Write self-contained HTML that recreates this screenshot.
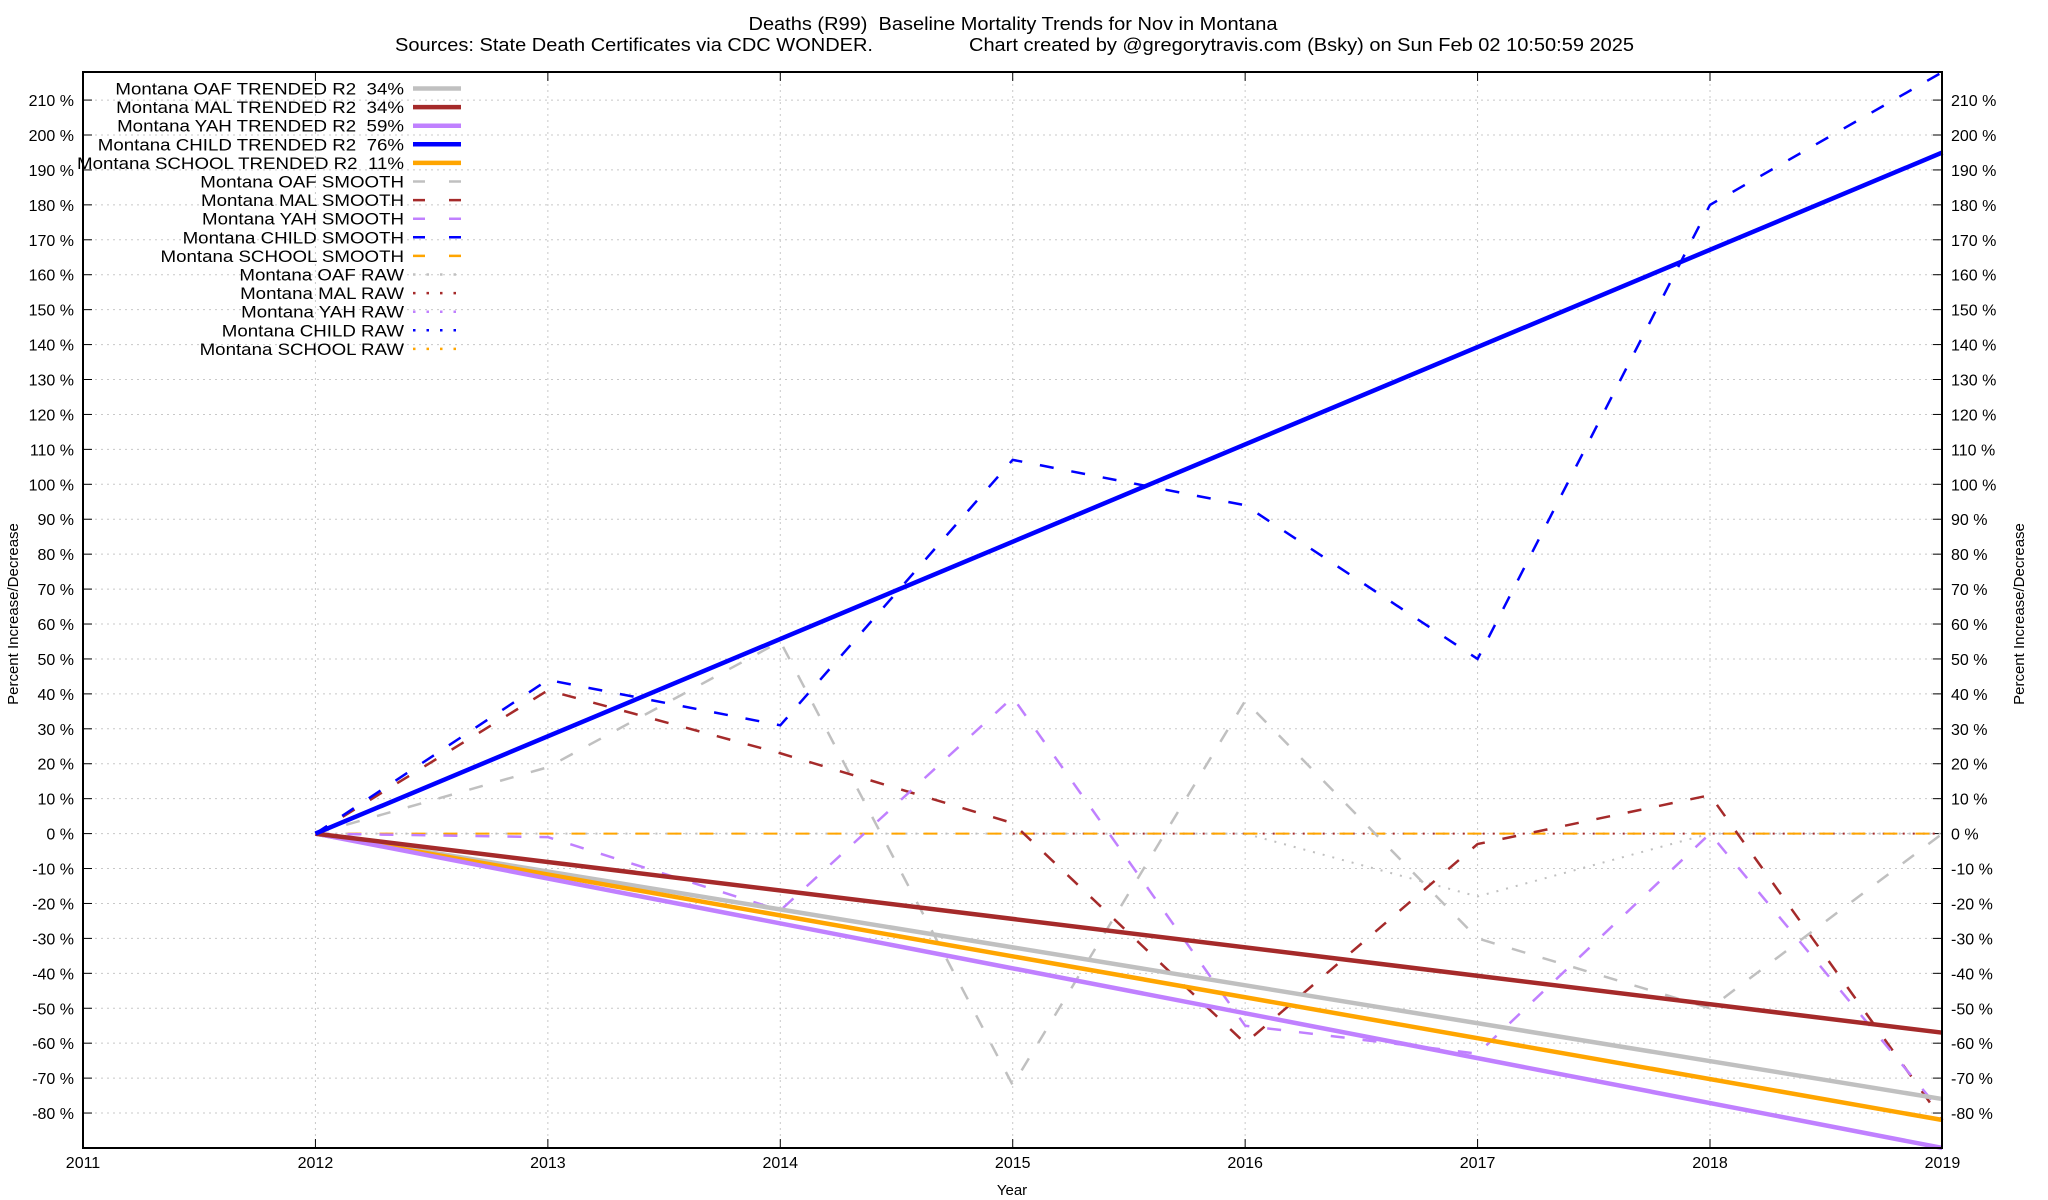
<!DOCTYPE html>
<html><head><meta charset="utf-8"><style>
html,body{margin:0;padding:0;background:#fff;}
svg{display:block;font-family:"Liberation Sans",sans-serif;}
</style></head><body>
<svg width="2048" height="1200" viewBox="0 0 2048 1200" xmlns="http://www.w3.org/2000/svg">
<rect width="2048" height="1200" fill="#fff"/>
<text x="1013" y="30" font-size="18" text-anchor="middle" textLength="529" lengthAdjust="spacingAndGlyphs" xml:space="preserve">Deaths (R99)  Baseline Mortality Trends for Nov in Montana</text>
<text x="395" y="51" font-size="18" textLength="478" lengthAdjust="spacingAndGlyphs">Sources: State Death Certificates via CDC WONDER.</text>
<text x="969" y="51" font-size="18" textLength="665" lengthAdjust="spacingAndGlyphs">Chart created by @gregorytravis.com (Bsky) on Sun Feb 02 10:50:59 2025</text>
<g id="grid" stroke="#c8c8c8" stroke-width="1" stroke-dasharray="2,4"></g>
<g id="axes"></g>
<g id="data" fill="none"></g>
<g id="legend"></g>
<rect x="83" y="72" width="1859" height="1076" fill="none" stroke="#000" stroke-width="2"/>
<text transform="translate(18,614) rotate(-90)" font-size="15" text-anchor="middle">Percent Increase/Decrease</text>
<text transform="translate(2024,614) rotate(-90)" font-size="15" text-anchor="middle">Percent Increase/Decrease</text>
<text x="1012" y="1195" font-size="15" text-anchor="middle">Year</text>
<g id="out"></g>
</svg>
<script>
(function(){
var NS="http://www.w3.org/2000/svg";
function X(y){return 83+232.43*(y-2011);}
function Y(p){return 833.6-3.493*p;}
function el(t,a,p,txt){var e=document.createElementNS(NS,t);for(var k in a)e.setAttribute(k,a[k]);if(txt!=null)e.textContent=txt;(p||document.getElementById('out')).appendChild(e);return e;}
var g=document.getElementById('grid'),ax=document.getElementById('axes');
for(var p=-80;p<=210;p+=10){var y=Y(p);
 el('line',{x1:83,x2:1942,y1:y,y2:y},g);
 el('line',{x1:83,x2:92,y1:y,y2:y,stroke:'#000','stroke-width':1},ax);
 el('line',{x1:1933,x2:1942,y1:y,y2:y,stroke:'#000','stroke-width':1},ax);
 el('text',{x:74,y:y+6,'font-size':16,'text-anchor':'end'},ax,p+' %');
 el('text',{x:1951,y:y+6,'font-size':16},ax,p+' %');}
for(var yr=2011;yr<=2019;yr++){var x=X(yr);
 el('line',{x1:x,x2:x,y1:72,y2:1148},g);
 el('line',{x1:x,x2:x,y1:1148,y2:1139,stroke:'#000'},ax);
 el('line',{x1:x,x2:x,y1:72,y2:81,stroke:'#000'},ax);
 el('text',{x:x,y:1168,'font-size':16,'text-anchor':'middle'},ax,String(yr));}
var d=document.getElementById('data');
function line(vals,col,w,dash,start){var pts=[];for(var i=0;i<vals.length;i++)pts.push(X((start||2012)+i)+','+Y(vals[i]));
 var a={points:pts.join(' '),stroke:col,'stroke-width':w};if(dash)a['stroke-dasharray']=dash;el('polyline',a,d);}
var GR='#c0c0c0',RD='#a52a2a',PU='#c080ff',BL='#0000ff',OR='#ffa500';
var DS='14,18';
line([0,0,0,0,0,-18,0,0],GR,2,'2,8');
line([0,0,0,0,0],RD,2,'2,8',2015);
line([0,0,0,0,0,0,0,0],OR,2,DS);
line([0,19,55,-72,38,-30,-50,0],GR,2.5,DS);
line([0,41,23,3,-60,-3,11,-82],RD,2.5,DS);
line([0,-1,-22,39,-55,-63,0,-80],PU,2.5,DS);
line([0,44,31,107,94,50,180,218],BL,2.5,DS);
function tr(end,col){el('line',{x1:X(2012),y1:Y(0),x2:X(2019),y2:Y(end),stroke:col,'stroke-width':4.5},d);}
tr(-76,GR);tr(-82,OR);tr(-90,PU);tr(-57,RD);tr(195,BL);
var lg=document.getElementById('legend');
var L=[['Montana OAF TRENDED R2  34%',GR,'s'],['Montana MAL TRENDED R2  34%',RD,'s'],['Montana YAH TRENDED R2  59%',PU,'s'],['Montana CHILD TRENDED R2  76%',BL,'s'],['Montana SCHOOL TRENDED R2  11%',OR,'s'],
['Montana OAF SMOOTH',GR,'d'],['Montana MAL SMOOTH',RD,'d'],['Montana YAH SMOOTH',PU,'d'],['Montana CHILD SMOOTH',BL,'d'],['Montana SCHOOL SMOOTH',OR,'d'],
['Montana OAF RAW',GR,'o'],['Montana MAL RAW',RD,'o'],['Montana YAH RAW',PU,'o'],['Montana CHILD RAW',BL,'o'],['Montana SCHOOL RAW',OR,'o']];
for(var i=0;i<L.length;i++){var y=88.5+18.6*i;
 var t=el('text',{x:404,y:y+6,'font-size':17,'text-anchor':'end'},lg,L[i][0]);
 t.setAttributeNS("http://www.w3.org/XML/1998/namespace","xml:space","preserve");
 try{var w=t.getComputedTextLength();t.setAttribute('textLength',(w*1.1).toFixed(1));t.setAttribute('lengthAdjust','spacingAndGlyphs');}catch(e){}
 var a={x1:413,x2:461,y1:y,y2:y,stroke:L[i][1]};
 if(L[i][2]=='s')a['stroke-width']=4.5;else if(L[i][2]=='d'){a['stroke-width']=2.5;a['stroke-dasharray']='12,24';}else{a['stroke-width']=2.5;a['stroke-dasharray']='2.5,11';}
 el('line',a,lg);}
})();
</script>
</body></html>
